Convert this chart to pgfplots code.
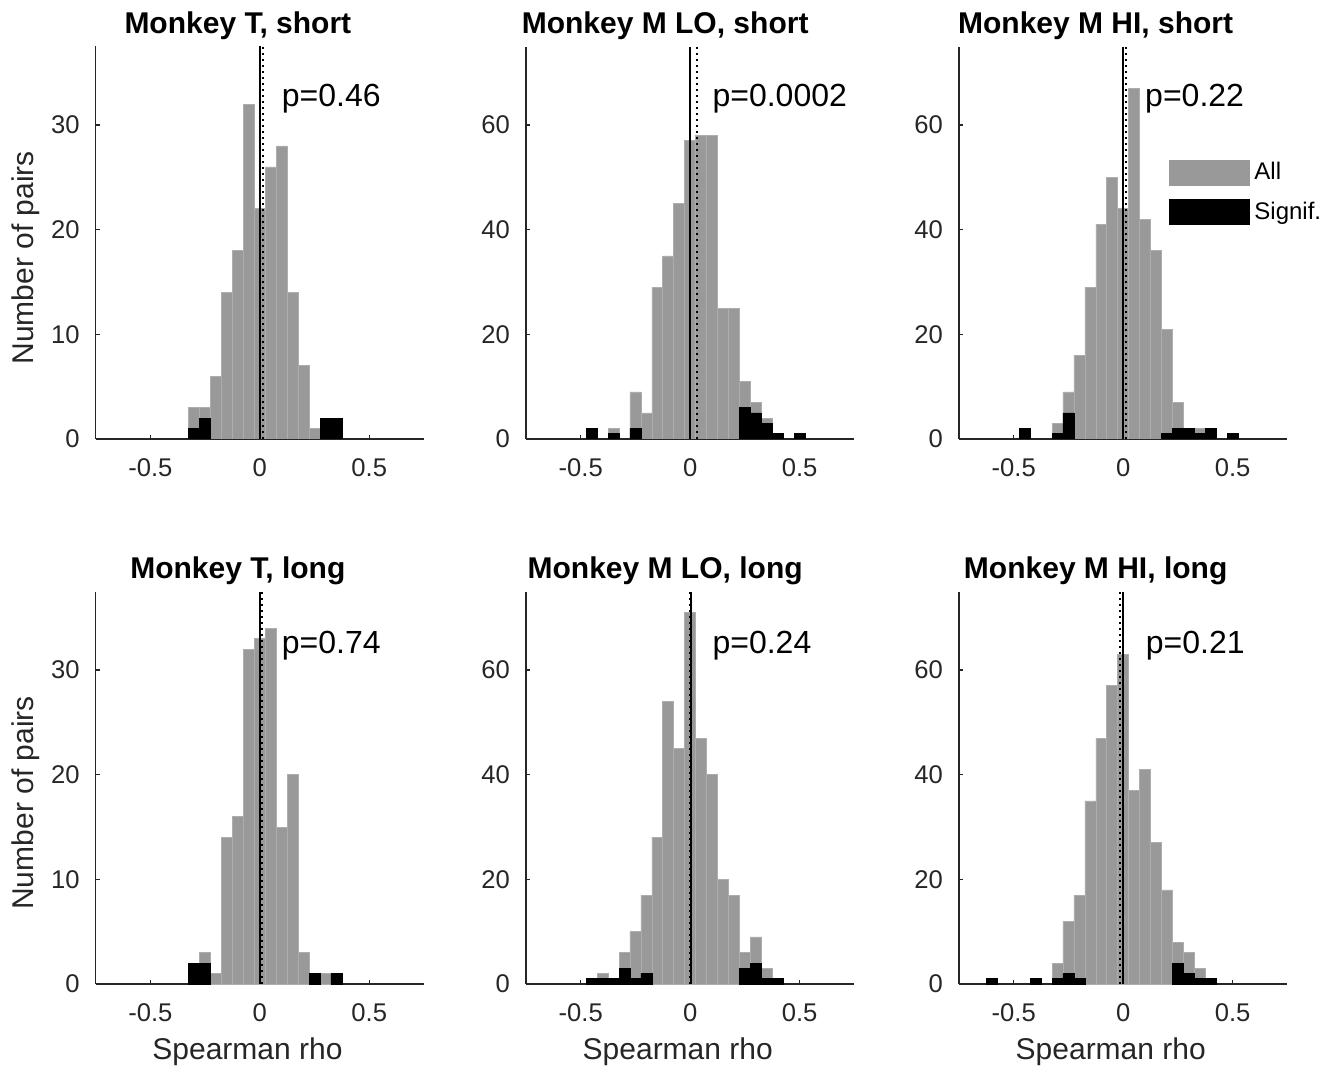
\documentclass[border=0pt]{standalone}
\usepackage{fontspec}
\setmainfont{Liberation Sans}
\usepackage{pgfplots}
\pgfplotsset{compat=1.18}
\usetikzlibrary{calc}

\definecolor{histgray}{rgb}{0.6,0.6,0.6}
\definecolor{edgegray}{rgb}{0.68,0.68,0.68}
\definecolor{axgray}{rgb}{0.15,0.15,0.15}

\tikzset{ptext/.style={anchor=base west, inner sep=0pt, font=\fontsize{16}{19}\selectfont}}

\pgfplotsset{
  hist/.style={
    scale only axis, width=164.15pt, height=196.25pt,
    xmin=-0.75, xmax=0.75, ymin=0,
    axis lines=left, axis line style={-, draw=axgray, line width=0.55pt},
    tick align=inside, major tick length=2pt,
    tick style={axgray, line width=0.55pt},
    xtick={-0.5,0,0.5}, xticklabels={-0.5,0,0.5},
    ticklabel style={font=\fontsize{12.8}{15}\selectfont, text=axgray},
    xticklabel style={anchor=north, inner sep=0pt, yshift=-9.7pt},
    yticklabel style={anchor=east, inner sep=0pt, xshift=-7.85pt},
    title style={font=\bfseries\fontsize{15}{18}\selectfont, anchor=base, at={(0.5,1)}},
    xlabel style={font=\fontsize{15}{18}\selectfont, text=axgray, anchor=base,
      at={($(axis description cs:0.5,0)+(-6.2pt,-37.65pt)$)}},
    ylabel style={font=\fontsize{15}{18}\selectfont, text=axgray, anchor=base,
      at={($(axis description cs:0,0.5)+(-31.2pt,-7.6pt)$)}},
  },
  small/.style={hist, ymax=37.5, ytick={0,10,20,30}, yticklabels={0,10,20,30}},
  big/.style={hist, ymax=75, ytick={0,20,40,60}, yticklabels={0,20,40,60}},
  toprow/.style={title style={yshift=0.3pt}},
  botrow/.style={title style={yshift=0.5pt}, xlabel={Spearman rho}},
  allbars/.style={ybar, bar width=0.05, bar shift=0pt, fill=histgray, draw=edgegray, line width=0.3pt,
    legend image code/.code={\fill[##1, draw=none] (0pt,-6.5pt) rectangle (40.5pt,6.5pt);}},
  sigbars/.style={ybar, bar width=0.05, bar shift=0pt, fill=black, draw=black, line width=0.3pt,
    legend image code/.code={\fill[##1, draw=none] (0pt,-6.5pt) rectangle (40.5pt,6.5pt);}},
  zeroline/.style={black, line width=0.8pt, forget plot},
  medline/.style={black, dotted, line width=1pt, forget plot},
}

\begin{document}
\begin{tikzpicture}
\useasboundingbox (0,0) rectangle (670pt,536.5pt);

% Monkey T, short
\begin{axis}[small, toprow, at={(47.85pt,317pt)}, anchor=south west,
  title={Monkey T, short}, title style={xshift=-11pt}, ylabel={Number of pairs}]
\addplot[allbars] coordinates {(-0.3,3)(-0.25,3)(-0.2,6)(-0.15,14)(-0.1,18)(-0.05,32)(0,22)(0.05,26)(0.1,28)(0.15,14)(0.2,7)(0.25,1)(0.3,2)(0.35,2)};
\addplot[sigbars] coordinates {(-0.3,1)(-0.25,2)(0.3,2)(0.35,2)};
\addplot[zeroline] coordinates {(0,0)(0,37.5)};
\addplot[medline] coordinates {(0.015,0)(0.015,37.5)};
\node[ptext] at (rel axis cs:0.566,0.848) {p=0.46};
\end{axis}

% Monkey M LO, short
\begin{axis}[big, toprow, at={(263pt,317pt)}, anchor=south west,
  title={Monkey M LO, short}, title style={xshift=-12.5pt}]
\addplot[allbars] coordinates {(-0.45,2)(-0.35,2)(-0.25,9)(-0.2,5)(-0.15,29)(-0.1,35)(-0.05,45)(0,57)(0.05,58)(0.1,58)(0.15,25)(0.2,25)(0.25,11)(0.3,7)(0.35,4)(0.4,1)(0.5,1)};
\addplot[sigbars] coordinates {(-0.45,2)(-0.35,1)(-0.25,2)(0.25,6)(0.3,5)(0.35,3)(0.4,1)(0.5,1)};
\addplot[zeroline] coordinates {(0,0)(0,75)};
\addplot[medline] coordinates {(0.029,0)(0.029,75)};
\node[ptext] at (rel axis cs:0.567,0.848) {p=0.0002};
\end{axis}

% Monkey M HI, short
\begin{axis}[big, toprow, at={(479.5pt,317pt)}, anchor=south west,
  title={Monkey M HI, short}, title style={xshift=-13.75pt},
  legend style={at={(axis description cs:0.6397,0.716)}, anchor=north west, draw=none, fill=none,
    inner sep=0pt, font=\fontsize{12}{14}\selectfont, row sep=5.75pt},
  legend cell align=left]
\addplot[allbars] coordinates {(-0.45,2)(-0.3,3)(-0.25,9)(-0.2,16)(-0.15,29)(-0.1,41)(-0.05,50)(0,44)(0.05,67)(0.1,42)(0.15,36)(0.2,21)(0.25,7)(0.3,2)(0.35,2)(0.4,2)(0.5,1)};
\addlegendentry{All}
\addplot[sigbars] coordinates {(-0.45,2)(-0.3,1)(-0.25,5)(0.2,1)(0.25,2)(0.3,2)(0.35,1)(0.4,2)(0.5,1)};
\addlegendentry{Signif.}
\addplot[zeroline] coordinates {(0,0)(0,75)};
\addplot[medline] coordinates {(0.012,0)(0.012,75)};
\node[ptext] at (rel axis cs:0.566,0.848) {p=0.22};
\end{axis}

% Monkey T, long
\begin{axis}[small, botrow, at={(47.85pt,44.5pt)}, anchor=south west,
  title={Monkey T, long}, title style={xshift=-11pt}, ylabel={Number of pairs}]
\addplot[allbars] coordinates {(-0.3,2)(-0.25,3)(-0.2,1)(-0.15,14)(-0.1,16)(-0.05,32)(0,33)(0.05,34)(0.1,15)(0.15,20)(0.2,3)(0.25,1)(0.3,1)(0.35,1)};
\addplot[sigbars] coordinates {(-0.3,2)(-0.25,2)(0.25,1)(0.35,1)};
\addplot[zeroline] coordinates {(0,0)(0,37.5)};
\addplot[medline] coordinates {(0.008,0)(0.008,37.5)};
\node[ptext] at (rel axis cs:0.566,0.843) {p=0.74};
\end{axis}

% Monkey M LO, long
\begin{axis}[big, botrow, at={(263pt,44.5pt)}, anchor=south west,
  title={Monkey M LO, long}, title style={xshift=-12.5pt}]
\addplot[allbars] coordinates {(-0.45,1)(-0.4,2)(-0.35,1)(-0.3,6)(-0.25,10)(-0.2,17)(-0.15,28)(-0.1,54)(-0.05,45)(0,71)(0.05,47)(0.1,40)(0.15,20)(0.2,17)(0.25,6)(0.3,9)(0.35,3)(0.4,1)};
\addplot[sigbars] coordinates {(-0.45,1)(-0.4,1)(-0.35,1)(-0.3,3)(-0.25,1)(-0.2,2)(0.25,3)(0.3,4)(0.35,1)(0.4,1)};
\addplot[zeroline] coordinates {(0.004,0)(0.004,75)};
\addplot[medline] coordinates {(-0.003,0)(-0.003,75)};
\node[ptext] at (rel axis cs:0.567,0.843) {p=0.24};
\end{axis}

% Monkey M HI, long
\begin{axis}[big, botrow, at={(479.5pt,44.5pt)}, anchor=south west,
  title={Monkey M HI, long}, title style={xshift=-13.75pt}]
\addplot[allbars] coordinates {(-0.6,1)(-0.4,1)(-0.3,4)(-0.25,12)(-0.2,17)(-0.15,35)(-0.1,47)(-0.05,57)(0,63)(0.05,37)(0.1,41)(0.15,27)(0.2,18)(0.25,8)(0.3,6)(0.35,3)(0.4,1)};
\addplot[sigbars] coordinates {(-0.6,1)(-0.4,1)(-0.3,1)(-0.25,2)(-0.2,1)(0.25,4)(0.3,2)(0.35,1)(0.4,1)};
\addplot[zeroline] coordinates {(0,0)(0,75)};
\addplot[medline] coordinates {(-0.015,0)(-0.015,75)};
\node[ptext] at (rel axis cs:0.568,0.843) {p=0.21};
\end{axis}
\end{tikzpicture}
\end{document}
